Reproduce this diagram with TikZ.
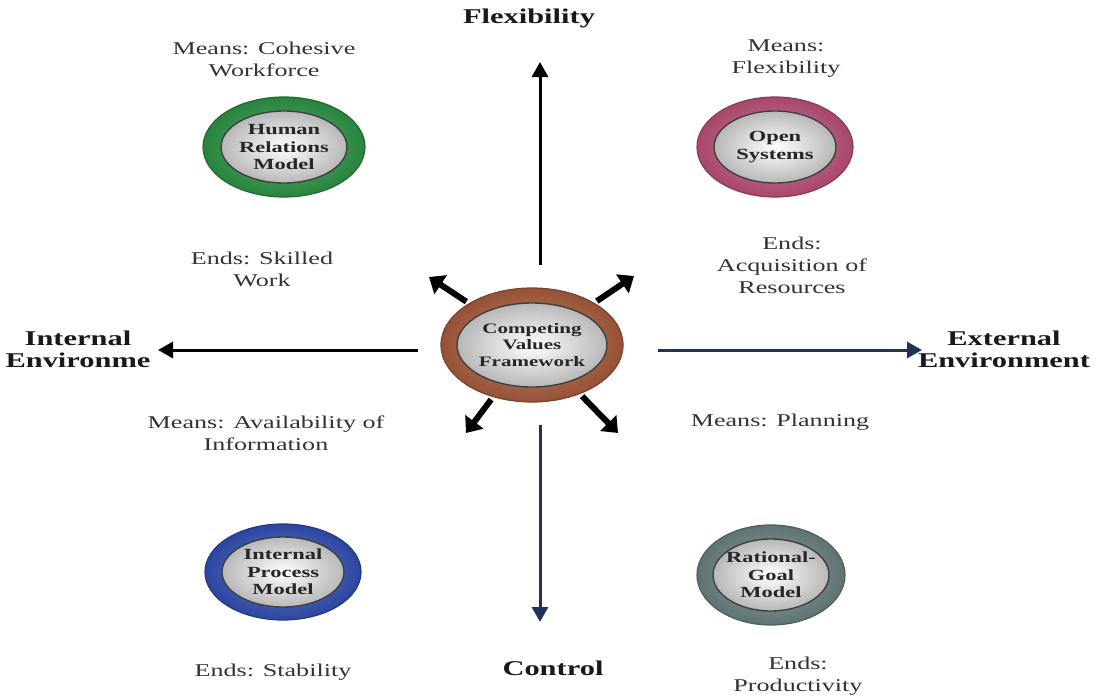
\documentclass[tikz,border=0pt]{standalone}
\usepackage{fontspec}
\setmainfont{Liberation Serif}[FakeStretch=1.45]
\usetikzlibrary{shapes.geometric,arrows.meta}

\definecolor{txt}{HTML}{333333}
\definecolor{navy}{HTML}{1F3354}
\definecolor{greenR}{HTML}{2E9B48}
\definecolor{pinkR}{HTML}{C4547E}
\definecolor{blueR}{HTML}{3452BC}
\definecolor{grayR}{HTML}{6F8787}
\definecolor{brownR}{HTML}{B0603F}

\tikzset{
  ring/.style={ellipse, draw=#1!70!black, line width=1.2pt,
    inner color=#1!75!white, outer color=#1!85!black, inner sep=0pt},
  face/.style={ellipse, draw=black!75, line width=1.4pt,
    inner color=white, outer color=black!28, inner sep=0pt},
  modeltext/.style={align=center, text=black!85,
    font=\fontsize{15.5}{17.5}\selectfont\bfseries},
  note/.style={align=center, text=txt, font=\fontsize{18}{22}\selectfont},
  axislabel/.style={align=center, text=black!90,
    font=\fontsize{21}{22}\selectfont\bfseries},
  axis/.style={line width=3pt, -{Triangle[length=15pt,width=16pt]}},
  burst/.style={line width=6pt, -{Triangle[length=14pt,width=22pt]}, shorten <=3pt},
}

\begin{document}
\begin{tikzpicture}[x=1pt,y=-1pt]
\useasboundingbox[fill=white] (0,0) rectangle (1096,696);

% main axes
\coordinate (upS) at (540,265);  \coordinate (upE) at (540,62);
\coordinate (dnS) at (540,425);  \coordinate (dnE) at (540,622);
\coordinate (ltS) at (418,350);  \coordinate (ltE) at (158,350);
\coordinate (rtS) at (658,350);  \coordinate (rtE) at (922,350);
\draw[axis, black] (upS) -- (upE);
\draw[axis, navy] (dnS) -- (dnE);
\draw[axis, black] (ltS) -- (ltE);
\draw[axis, navy] (rtS) -- (rtE);

% centre: Competing Values Framework
\node[ring=brownR, minimum width=182pt, minimum height=114pt] (cvf) at (532,345) {};
\node[face, minimum width=150pt, minimum height=84pt] (cvfface) at (cvf) {};
\node[modeltext, font=\fontsize{14.5}{16.5}\selectfont\bfseries] (cvftext) at (cvf) {Competing\\Values\\Framework};

% four diagonal arrows out of the centre
\coordinate (dUL) at (429,277);
\coordinate (dUR) at (634,276);
\coordinate (dDL) at (466,433);
\coordinate (dDR) at (618,433);
\draw[burst] (cvf) -- (dUL);
\draw[burst] (cvf) -- (dUR);
\draw[burst] (cvf) -- (dDL);
\draw[burst] (cvf) -- (dDR);

% quadrant models
\node[ring=greenR, minimum width=162pt, minimum height=100pt] (hrm) at (284,147) {};
\node[face, minimum width=126pt, minimum height=72pt] (hrmface) at (hrm) {};
\node[modeltext] (hrmtext) at (hrm) {Human\\Relations\\Model};

\node[ring=pinkR, minimum width=156pt, minimum height=100pt] (osm) at (775,147) {};
\node[face, minimum width=122pt, minimum height=72pt] (osmface) at (osm) {};
\node[modeltext] (osmtext) at (osm) {Open\\Systems};

\node[ring=blueR, minimum width=156pt, minimum height=96pt] (ipm) at (283,572) {};
\node[face, minimum width=122pt, minimum height=70pt] (ipmface) at (ipm) {};
\node[modeltext] (ipmtext) at (ipm) {Internal\\Process\\Model};

\node[ring=grayR, minimum width=148pt, minimum height=100pt] (rgm) at (771,575) {};
\node[face, minimum width=116pt, minimum height=72pt] (rgmface) at (rgm) {};
\node[modeltext] (rgmtext) at (rgm) {Rational-\\Goal\\Model};

% axis labels
\node[axislabel] (flex) at (529,18) {Flexibility};
\node[axislabel] (ctrl) at (553,668) {Control};
\node[axislabel] (intenv) at (78,349) {Internal\\Environme};
\node[axislabel] (extenv) at (1004,349) {External\\Environment};

% means and ends
\node[note] (m1) at (264,59) {Means: Cohesive\\Workforce};
\node[note] (m2) at (786,59) {Means:\\Flexibility};
\node[note] (e1) at (262,269) {Ends: Skilled\\Work};
\node[note] (e2) at (792,265) {Ends:\\Acquisition of\\Resources};
\node[note] (m3) at (266,433) {Means: Availability of\\Information};
\node[note] (m4) at (780,422) {Means: Planning};
\node[note] (e3) at (273,672) {Ends: Stability};
\node[note] (e4) at (798,676) {Ends:\\Productivity};
\end{tikzpicture}
\end{document}
